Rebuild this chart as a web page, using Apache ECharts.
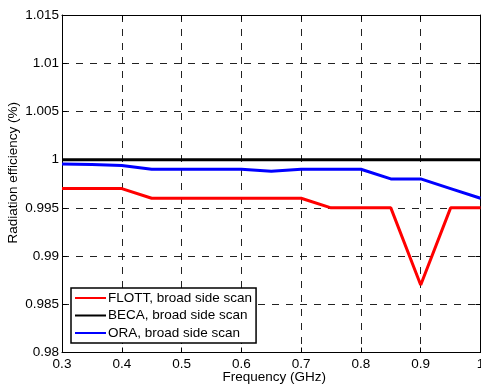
<!DOCTYPE html>
<html>
<head>
<meta charset="utf-8">
<script src="https://cdn.jsdelivr.net/npm/echarts@6/dist/echarts.min.js"></script>
<style>html,body{margin:0;padding:0;background:#fff;}#c{width:481px;height:387px;}</style>
</head>
<body>
<div id="c"></div>
<script>
var freq = [0.3, 0.35, 0.4, 0.45, 0.5, 0.55, 0.6, 0.65, 0.7, 0.75, 0.8, 0.85, 0.9, 0.95, 1.0];
var flott = [0.997, 0.997, 0.997, 0.996, 0.996, 0.996, 0.996, 0.996, 0.996, 0.995, 0.995, 0.995, 0.987, 0.995, 0.995];
var beca  = [1.0, 1.0, 1.0, 1.0, 1.0, 1.0, 1.0, 1.0, 1.0, 1.0, 1.0, 1.0, 1.0, 1.0, 1.0];
var ora   = [0.99955, 0.9995, 0.9994, 0.999, 0.999, 0.999, 0.999, 0.9988, 0.999, 0.999, 0.999, 0.998, 0.998, 0.997, 0.996];
var seriesNames = ['FLOTT, broad side scan', 'BECA, broad side scan', 'ORA, broad side scan'];
var xTitle = 'Frequency (GHz)';
var yTitle = 'Radiation efficiency (%)';

function pairs(ys) { return freq.map(function (f, i) { return [f, ys[i]]; }); }
var font = 'Liberation Sans, Arial, sans-serif';
var gridLine = { show: true, lineStyle: { color: '#222', width: 1, type: [7, 7] } };
var tick = { show: true, inside: true, length: 5, lineStyle: { color: '#000' } };
var axisLine = { show: true, onZero: false, lineStyle: { color: '#000', width: 1 } };

var chart = echarts.init(document.getElementById('c'), null, { renderer: 'canvas' });
chart.setOption({
  animation: false,
  backgroundColor: '#fff',
  grid: { left: 62, right: 0.5, top: 15, bottom: 34.5, containLabel: false, outerBoundsMode: 'none' },
  legend: {
    orient: 'vertical', left: 71, top: 288,
    backgroundColor: '#fff', borderColor: '#000', borderWidth: 1.5, borderRadius: 0,
    padding: [3, 4, 3, 3], itemWidth: 31, itemHeight: 14, itemGap: 3.5,
    itemStyle: { opacity: 0 },
    textStyle: { fontFamily: font, fontSize: 13.5, color: '#000', padding: [0, 0, 0, -3] },
    data: seriesNames
  },
  xAxis: [{
    type: 'value', min: 0.3, max: 1.0, interval: 0.1,
    name: xTitle, nameLocation: 'middle', nameGap: 18, nameMoveOverlap: false,
    nameTextStyle: { fontFamily: font, fontSize: 13.5, color: '#000', verticalAlign: 'top', padding: [0, 0, 0, 6] },
    axisLine: axisLine, axisTick: tick, splitLine: gridLine,
    axisLabel: { fontFamily: font, fontSize: 13.5, color: '#000', margin: 5,
      formatter: function (v) { return String(parseFloat(v.toFixed(2))); } }
  }, {
    type: 'value', position: 'top', min: 0.3, max: 1.0, interval: 0.1,
    axisLine: axisLine, axisTick: tick, axisLabel: { show: false }, splitLine: { show: false }
  }],
  yAxis: [{
    type: 'value', min: 0.98, max: 1.015, interval: 0.005,
    name: yTitle, nameLocation: 'middle', nameGap: 42, nameRotate: 90, nameMoveOverlap: false,
    nameTextStyle: { fontFamily: font, fontSize: 13.5, color: '#000', padding: [0, 0, 0, 22] },
    axisLine: axisLine, axisTick: tick, splitLine: gridLine,
    axisLabel: { fontFamily: font, fontSize: 13.5, color: '#000', margin: 3,
      formatter: function (v) { return String(parseFloat(v.toFixed(3))); } }
  }, {
    type: 'value', position: 'right', min: 0.98, max: 1.015, interval: 0.005,
    axisLine: axisLine, axisTick: tick, axisLabel: { show: false }, splitLine: { show: false }
  }],
  series: [
    { name: seriesNames[0], type: 'line', data: pairs(flott), symbol: 'none',
      lineStyle: { color: '#ff0000', width: 3 }, itemStyle: { color: '#ff0000' }, z: 3 },
    { name: seriesNames[1], type: 'line', data: pairs(beca), symbol: 'none',
      lineStyle: { color: '#000', width: 3 }, itemStyle: { color: '#000' }, z: 2 },
    { name: seriesNames[2], type: 'line', data: pairs(ora), symbol: 'none',
      lineStyle: { color: '#0000ff', width: 3 }, itemStyle: { color: '#0000ff' }, z: 3 }
  ]
});
</script>
</body>
</html>
